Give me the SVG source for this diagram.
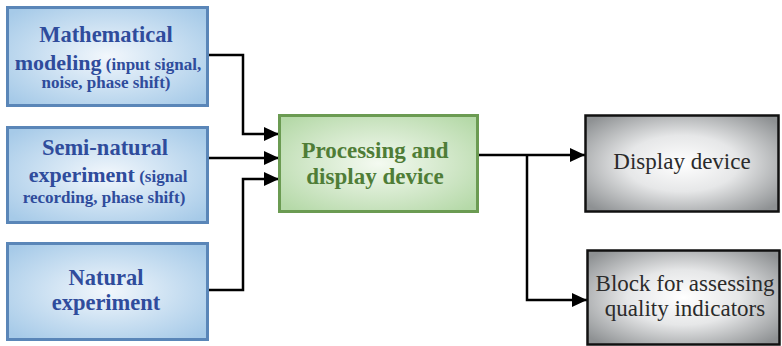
<svg xmlns="http://www.w3.org/2000/svg" width="782" height="346" viewBox="0 0 782 346">
<defs>
<radialGradient id="gBlue" cx="50%" cy="50%" r="65%">
<stop offset="0" stop-color="#f2f7fc"/>
<stop offset="0.6" stop-color="#c4dcf0"/>
<stop offset="1" stop-color="#a6cae8"/>
</radialGradient>
<radialGradient id="gGreen" cx="50%" cy="50%" r="65%">
<stop offset="0" stop-color="#f4faf1"/>
<stop offset="0.6" stop-color="#cfe6c6"/>
<stop offset="1" stop-color="#b5d9a8"/>
</radialGradient>
<radialGradient id="gGray" cx="50%" cy="50%" r="65%">
<stop offset="0" stop-color="#ffffff"/>
<stop offset="0.45" stop-color="#e6e7e8"/>
<stop offset="1" stop-color="#8e9193"/>
</radialGradient>
<marker id="arr" markerUnits="userSpaceOnUse" markerWidth="16" markerHeight="14" refX="15" refY="7" orient="auto">
<path d="M0,0 L15,7 L0,14 Z" fill="#000"/>
</marker>
</defs>
<g id="connectors" fill="none" stroke="#000" stroke-width="2.5" marker-end="url(#arr)">
<path d="M208,55 H243 V134 H279"/>
<path d="M208,158 H279"/>
<path d="M208,290 H243 V179 H279"/>
<path d="M478,155 H585"/>
<path d="M527,155 V300 H587"/>
</g>
<g font-family="Liberation Serif" font-weight="bold" fill="#2f4c9c" text-anchor="middle">
<g id="math">
<rect x="7.5" y="7.5" width="200" height="98" fill="url(#gBlue)" stroke="#5a86b8" stroke-width="3"/>
<text x="106" y="42" font-size="22.5">Mathematical</text>
<text x="108" y="70"><tspan font-size="22">modeling</tspan><tspan font-size="17"> (input signal,</tspan></text>
<text x="106" y="88" font-size="17">noise, phase shift)</text>
</g>
<g id="semi">
<rect x="7.5" y="127.5" width="200" height="95" fill="url(#gBlue)" stroke="#5a86b8" stroke-width="3"/>
<text x="105" y="155" font-size="22.5">Semi-natural</text>
<text x="108" y="182"><tspan font-size="22">experiment</tspan><tspan font-size="17"> (signal</tspan></text>
<text x="104" y="203" font-size="17">recording, phase shift)</text>
</g>
<g id="natural">
<rect x="7.5" y="243.5" width="200" height="96" fill="url(#gBlue)" stroke="#5a86b8" stroke-width="3"/>
<text x="106" y="285" font-size="22.5">Natural</text>
<text x="106" y="310" font-size="22.5">experiment</text>
</g>
<g id="processing" fill="#4f7d37" font-size="23">
<rect x="279.5" y="115.5" width="198" height="96" fill="url(#gGreen)" stroke="#6b9b52" stroke-width="3"/>
<text x="375" y="158">Processing and</text>
<text x="375" y="184">display device</text>
</g>
</g>
<g font-family="Liberation Serif" font-size="23" fill="#2b2b2b" text-anchor="middle">
<g id="display">
<rect x="585.5" y="115.5" width="193" height="96" fill="url(#gGray)" stroke="#111" stroke-width="2.5"/>
<text x="682" y="169">Display device</text>
</g>
<g id="block">
<rect x="587.5" y="250.5" width="192" height="94" fill="url(#gGray)" stroke="#111" stroke-width="2.5"/>
<text x="685" y="291">Block for assessing</text>
<text x="685" y="316">quality indicators</text>
</g>
</g>
</svg>
